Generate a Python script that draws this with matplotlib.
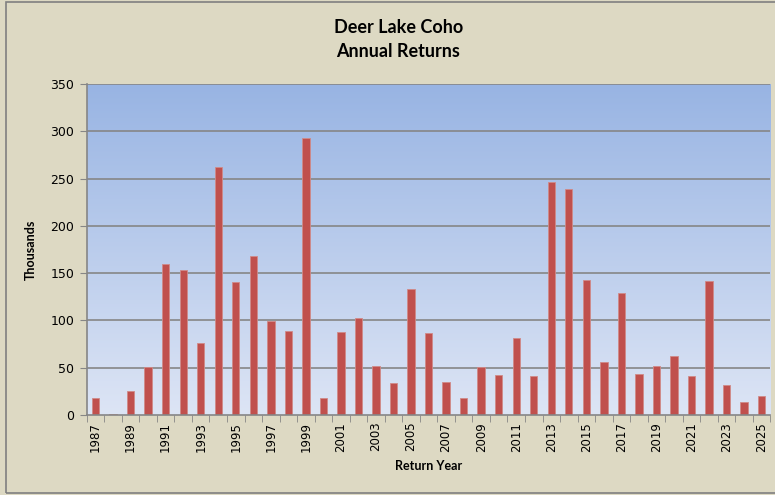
import numpy as np
import matplotlib
matplotlib.use("Agg")
import matplotlib.pyplot as plt
from matplotlib.patches import Rectangle

# Deer Lake coho returns, thousands of fish
years = list(range(1987, 2026))
returns = [17.6, 1, 25.5, 51, 160, 153, 76, 262, 140.5, 168,
           99, 89, 292.5, 17.6, 88, 103, 52, 34, 133, 87,
           34.5, 18, 50.5, 42, 81, 41.5, 246.5, 239, 142.5, 56,
           129, 43, 52, 62.5, 41.5, 141.5, 31.5, 14, 19.5]
year_labels = [str(y) if (y - 1987) % 2 == 0 else "" for y in years]
y_ticks = [0, 50, 100, 150, 200, 250, 300, 350]

bg = "#DDD9C3"
bar_color = "#C0504D"
grid_color = "#868686"

fig = plt.figure(figsize=(7.75, 4.95), dpi=100, facecolor=bg)
ax = fig.add_axes([0.112, 0.162, 0.882, 0.668])

x = np.arange(len(years))
ax.set_xlim(-0.5, len(years) - 0.5)
ax.set_ylim(0, 350)

# blue gradient plot area
grad = np.linspace(0, 1, 256).reshape(-1, 1)
top = np.array([152, 180, 227]) / 255
bottom = np.array([221, 229, 245]) / 255
img = bottom + (top - bottom) * grad
ax.imshow(img[:, None, :].repeat(2, axis=1), extent=[-0.5, len(years) - 0.5, 0, 350],
          origin="lower", aspect="auto", zorder=0)

for t in y_ticks[1:]:
    ax.axhline(t, color=grid_color, lw=1.2, zorder=1)

ax.bar(x, returns, width=0.42, color=bar_color, edgecolor="#D08A88", linewidth=0.6, zorder=2)

ax.set_yticks(y_ticks)
ax.set_yticklabels([str(t) for t in y_ticks], fontsize=9)
ax.set_xticks(x)
ax.set_xticklabels(year_labels, rotation=90, fontsize=8.5)
ax.tick_params(axis="x", length=0, pad=5)
ax.set_xticks(np.arange(-0.5, len(years)), minor=True)
ax.tick_params(axis="x", which="minor", length=5, color=grid_color)
ax.tick_params(axis="y", length=5, color=grid_color, pad=4)

for s in ["top", "right"]:
    ax.spines[s].set_visible(False)
for s in ["left", "bottom"]:
    ax.spines[s].set_color(grid_color)
    ax.spines[s].set_linewidth(1.2)

label_font = ["Lato", "DejaVu Sans"]
fig.text(0.514, 0.945, "Deer Lake Coho", ha="center", va="center",
         fontsize=13, fontweight="bold", family=label_font)
fig.text(0.514, 0.896, "Annual Returns", ha="center", va="center",
         fontsize=13, fontweight="bold", family=label_font)
ax.set_ylabel("Thousands", fontsize=9, fontweight="bold", labelpad=10, family=label_font)
ax.set_xlabel("Return Year", fontsize=9, fontweight="bold", labelpad=6, family=label_font)

fig.patches.append(Rectangle((0.008, 0.004), 1.1, 0.992, transform=fig.transFigure,
                             fill=False, edgecolor="#808080", lw=1.2))

fig.savefig("out.png", dpi=100, facecolor=bg)
